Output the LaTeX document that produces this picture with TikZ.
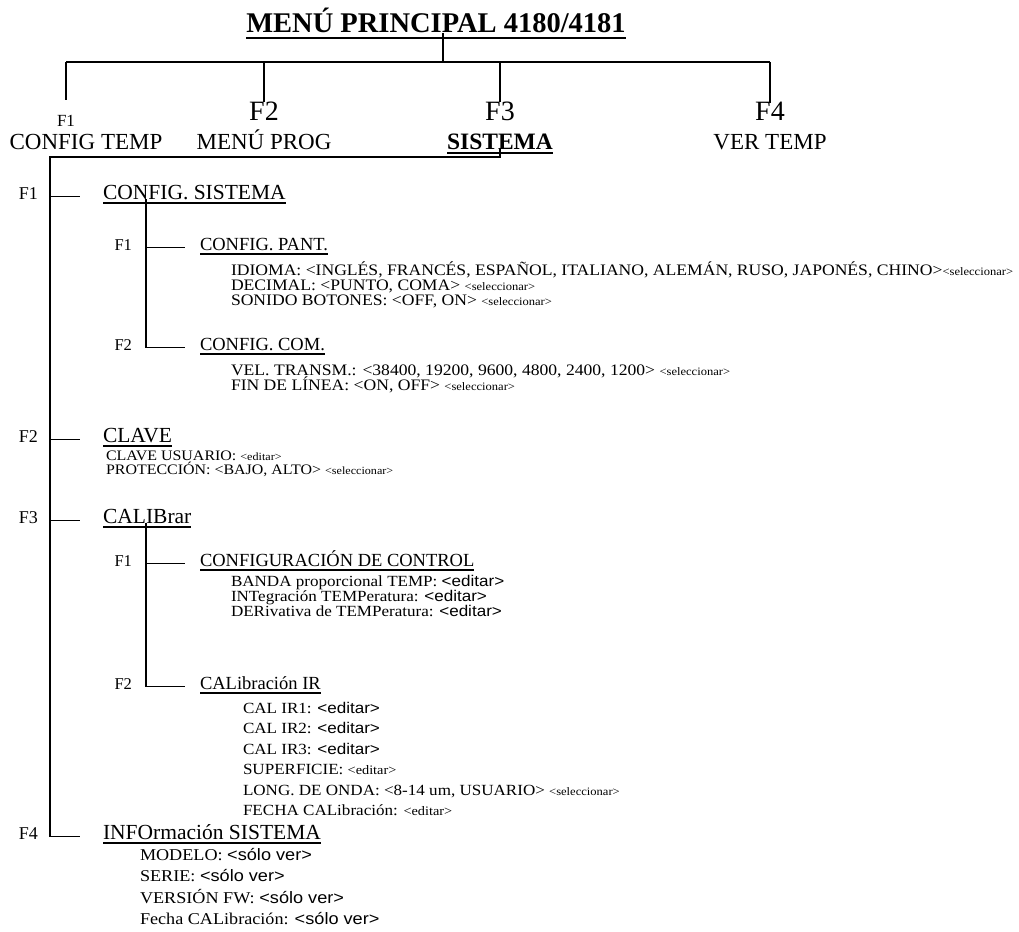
\documentclass[tikz,border=0pt]{standalone}
\usepackage{fontspec}
\setmainfont{Liberation Serif}
\setsansfont{Liberation Sans}
\newfontfamily\wf{Liberation Serif}[FakeStretch=1.1]
\newfontfamily\wsf{Liberation Sans}[FakeStretch=1.1]
\usetikzlibrary{positioning}

\newcommand{\fs}[1]{\fontsize{#1}{#1}\selectfont}
\newcommand{\tg}{\fs{11.4}}

\begin{document}
\begin{tikzpicture}[x=1pt,y=-1pt,line width=1.2pt,
    every node/.style={inner sep=0pt,outer sep=0pt},
    ul/.style 2 args={append after command={
      ([yshift=-#2]\tikzlastnode.base west) edge[line width=#1] ([yshift=-#2]\tikzlastnode.base east)}},
    key/.style={anchor=base,font=\fs{28}},
    lbl/.style={anchor=base,font=\fs{23}},
    head/.style={anchor=base west,font=\fs{21.5},ul={1.2pt}{4pt}},
    sub/.style={anchor=base west,font=\fs{18.5},ul={1.2pt}{4pt}},
    fk/.style={font=\fs{18}},
    sfk/.style={font=\fs{16.5}},
    item/.style={anchor=base west,font=\wf\fs{16}}]
  \useasboundingbox (0,0) rectangle (1019,931);

  % main menu
  \node[anchor=base,font=\bfseries\fs{28.5},ul={2.2pt}{5pt}] (title) at (436,33) {MENÚ PRINCIPAL 4180/4181};
  \node[key,font=\fs{17},text height=27pt] (fa) at (66,127) {F1};
  \node[key] (fb) at (264,121) {F2};
  \node[key] (fc) at (500,121) {F3};
  \node[key] (fd) at (770,121) {F4};
  \node[lbl] (ma) at (86,149) {CONFIG TEMP};
  \node[lbl] (mb) at (264,149) {MENÚ PROG};
  \node[lbl,font=\bfseries\fs{23.5},ul={2pt}{3.5pt}] (mc) at (500,149) {SISTEMA};
  \node[lbl] (md) at (770,149) {VER TEMP};

  \coordinate (bar) at (443,62);
  \draw (title.south -| bar) -- (bar);
  \draw (fa.north |- bar) -- (fd.north |- bar);
  \foreach \k in {fa,fb,fc,fd}
    \draw (\k.north |- bar) -- (\k.north);

  % sistema
  \node[head] (s1) at (103,199) {CONFIG. SISTEMA};
  \node[head] (s2) at (103,442) {CLAVE};
  \node[head] (s3) at (103,523) {CALIBrar};
  \node[head] (s4) at (103,839) {INFOrmación SISTEMA};
  \foreach \s [count=\n] in {s1,s2,s3,s4}
    \node[fk,base left=65pt of \s] (k\n) {F\n};

  \coordinate (spine) at (50,157);
  \draw[shorten >=23pt] (mc.south) |- (spine) |- (s4.mid west);
  \foreach \s in {s1,s2,s3}
    \draw[shorten >=23pt] (spine |- \s.mid west) -- (\s.mid west);

  % config. sistema
  \node[sub] (p1) at (200,250) {CONFIG. PANT.};
  \node[sub] (p2) at (200,350) {CONFIG. COM.};
  \node[sfk,base left=68pt of p1] (q1) {F1};
  \node[sfk,base left=68pt of p2] (q2) {F2};
  \draw[shorten >=15pt] (s1.south west) ++(43,0) |- (p1.mid west);
  \draw[shorten >=15pt] (s1.south west) ++(43,0) |- (p2.mid west);

  \foreach \t [count=\n] in {
      {IDIOMA: <INGLÉS, FRANCÉS, ESPAÑOL, ITALIANO, ALEMÁN, RUSO, JAPONÉS, CHINO>{\tg<seleccionar>}},
      {DECIMAL: <PUNTO, COMA> {\tg<seleccionar>}},
      {SONIDO BOTONES: <OFF, ON> {\tg<seleccionar>}}}
    \node[item] (pa\n) at (231,{260+15*\n}) {\t};
  \foreach \t [count=\n] in {
      {VEL. TRANSM.: <38400, 19200, 9600, 4800, 2400, 1200> {\tg<seleccionar>}},
      {FIN DE LÍNEA: <ON, OFF> {\tg<seleccionar>}}}
    \node[item] (pb\n) at (231,{360+15*\n}) {\t};

  % clave
  \foreach \t [count=\n] in {
      {CLAVE USUARIO: {\fs{11}<editar>}},
      {PROTECCIÓN: <BAJO, ALTO> {\fs{11}<seleccionar>}}}
    \node[item,font=\wf\fs{14.5}] (ca\n) at (106,{446+14*\n}) {\t};

  % calibrar
  \node[sub] (p3) at (200,566) {CONFIGURACIÓN DE CONTROL};
  \node[sub] (p4) at (200,689) {CALibración IR};
  \node[sfk,base left=68pt of p3] (q3) {F1};
  \node[sfk,base left=68pt of p4] (q4) {F2};
  \draw[shorten >=15pt] (s3.south west) ++(43,0) |- (p3.mid west);
  \draw[shorten >=15pt] (s3.south west) ++(43,0) |- (p4.mid west);

  \foreach \t [count=\n] in {
      {BANDA proporcional TEMP: {\wsf<editar>}},
      {INTegración TEMPeratura: {\wsf<editar>}},
      {DERivativa de TEMPeratura: {\wsf<editar>}}}
    \node[item,font=\wf\fs{15.5}] (pc\n) at (231,{571+15*\n}) {\t};
  \foreach \t [count=\n] in {
      {CAL IR1: {\wsf<editar>}},
      {CAL IR2: {\wsf<editar>}},
      {CAL IR3: {\wsf<editar>}},
      {SUPERFICIE: {\fs{13}<editar>}},
      {LONG. DE ONDA: <8-14 um, USUARIO> {\tg<seleccionar>}},
      {FECHA CALibración: {\fs{13}<editar>}}}
    \node[item,font=\wf\fs{15.5}] (pd\n) at (243,{692.5+20.5*\n}) {\t};

  % informacion
  \foreach \t [count=\n] in {
      {MODELO: {\wsf<sólo ver>}},
      {SERIE: {\wsf<sólo ver>}},
      {VERSIÓN FW: {\wsf<sólo ver>}},
      {Fecha CALibración: {\wsf<sólo ver>}}}
    \node[item,font=\wf\fs{16.5}] (ia\n) at (140,{838.5+21.5*\n}) {\t};
\end{tikzpicture}
\end{document}
